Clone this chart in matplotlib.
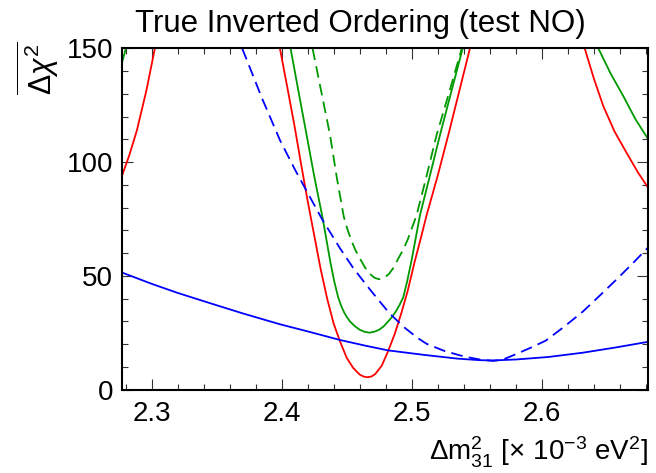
import matplotlib
matplotlib.use("Agg")
import matplotlib.pyplot as plt
from matplotlib.ticker import MultipleLocator

plt.rcParams["font.family"] = ["Liberation Sans", "DejaVu Sans"]
plt.rcParams["mathtext.fontset"] = "custom"
plt.rcParams["mathtext.rm"] = "Liberation Sans"
plt.rcParams["mathtext.it"] = "Liberation Sans:italic"

# delta chi^2 scan vs dm31^2, one list of (x, y) per branch shown inside the frame
red_left_x = [2.277, 2.283, 2.2887, 2.296, 2.3025]
red_left_y = [93.6, 103.3, 114.0, 131.5, 150.0]
red_mid_x = [2.3987, 2.4050, 2.4102, 2.4150, 2.4200, 2.4250, 2.4300, 2.4350,
             2.4400, 2.4450, 2.4500, 2.4550, 2.4600, 2.4630, 2.4659, 2.4690,
             2.4720, 2.4770, 2.4820, 2.4870, 2.4920, 2.4970, 2.5020, 2.5070,
             2.5115, 2.5200, 2.5282, 2.5365, 2.5448]
red_mid_y = [150.0, 131.0, 115.0, 99.0, 83.0, 68.0, 53.0, 40.0,
             29.0, 21.0, 14.0, 9.5, 6.6, 5.7, 5.4, 5.7,
             6.8, 10.5, 17.0, 24.5, 33.5, 43.5, 55.5, 66.5,
             76.7, 94.0, 112.0, 131.0, 150.0]
red_right_x = [2.6331, 2.6400, 2.6474, 2.6560, 2.6654, 2.6740, 2.682]
red_right_y = [150.0, 137.0, 124.6, 113.5, 104.0, 95.5, 88.6]

green_left_x = [2.277, 2.2802]
green_left_y = [143.3, 150.0]
green_mid_x = [2.4069, 2.4130, 2.4192, 2.4250, 2.4315, 2.4375, 2.4405, 2.4435,
               2.4460, 2.4480, 2.4500, 2.4525, 2.4560, 2.4600, 2.4637, 2.4674,
               2.4712, 2.4750, 2.4785, 2.4820, 2.4850, 2.4880, 2.4905, 2.4935,
               2.4965, 2.5000, 2.5064, 2.5140, 2.5218, 2.5305, 2.5392]
green_mid_y = [150.0, 131.0, 112.0, 94.0, 75.5, 56.0, 47.5, 40.5,
               36.5, 34.0, 32.0, 30.0, 28.0, 26.3, 25.4, 25.0,
               25.4, 26.3, 27.8, 30.0, 32.0, 34.5, 37.0, 40.5,
               47.5, 57.0, 76.7, 94.0, 112.0, 131.0, 150.0]
green_right_x = [2.6436, 2.6530, 2.6628, 2.6720, 2.682]
green_right_y = [150.0, 139.0, 129.0, 119.0, 110.0]

green_dash_x = [2.4238, 2.4305, 2.4372, 2.4425, 2.4478, 2.4510, 2.4540, 2.4570,
                2.4602, 2.4642, 2.4680, 2.4715, 2.4751, 2.4788, 2.4825, 2.4861,
                2.4897, 2.4935, 2.4970, 2.5038, 2.5115, 2.5192, 2.5290, 2.5385]
green_dash_y = [150.0, 131.0, 112.0, 93.0, 76.0, 69.8, 65.0, 61.0,
                57.6, 53.6, 50.8, 49.1, 48.5, 49.1, 50.8, 53.6,
                57.6, 61.5, 66.0, 76.7, 94.0, 112.0, 131.0, 150.0]

blue_dash_x = [2.3697, 2.3850, 2.3987, 2.4100, 2.4179, 2.4308, 2.4450, 2.4550,
               2.4654, 2.4750, 2.4833, 2.4950, 2.5050, 2.5115, 2.5250, 2.5372,
               2.5450, 2.5525, 2.5580, 2.5628, 2.5670, 2.5720, 2.5800, 2.5920,
               2.6031, 2.6170, 2.6317, 2.6450, 2.6577, 2.6700, 2.682]
blue_dash_y = [150.0, 128.0, 109.7, 97.0, 88.7, 75.2, 62.0, 53.5,
               45.8, 39.0, 33.3, 27.0, 22.5, 20.1, 17.0, 15.0,
               14.0, 13.2, 12.8, 12.6, 12.9, 13.6, 15.5, 18.5,
               21.5, 27.5, 34.3, 41.5, 48.5, 55.5, 62.6]

blue_x = [2.277, 2.300, 2.320, 2.3448, 2.370, 2.3987, 2.4218, 2.4448,
          2.4650, 2.4820, 2.5100, 2.5350, 2.5525, 2.5628, 2.5800, 2.6050,
          2.6317, 2.6570, 2.682]
blue_y = [51.5, 46.5, 42.5, 38.0, 33.5, 28.7, 25.3, 21.8,
          19.2, 17.2, 15.2, 13.6, 12.9, 12.8, 13.2, 14.3,
          16.2, 18.5, 21.0]

x_min, x_max = 2.277, 2.682
y_min, y_max = 0, 150

red = "#ff0000"
green = "#009900"
blue = "#0000ff"

fig = plt.figure(figsize=(6.56, 4.73), dpi=100)
ax = fig.add_axes([0.1855, 0.1765, 0.8028, 0.721])

lw = 1.3
for xs, ys in [(red_left_x, red_left_y), (red_mid_x, red_mid_y), (red_right_x, red_right_y)]:
    ax.plot(xs, ys, color=red, lw=lw)
for xs, ys in [(green_left_x, green_left_y), (green_mid_x, green_mid_y),
               (green_right_x, green_right_y)]:
    ax.plot(xs, ys, color=green, lw=lw)
ax.plot(green_dash_x, green_dash_y, color=green, lw=lw, dashes=(6.5, 3.5))
ax.plot(blue_dash_x, blue_dash_y, color=blue, lw=lw, dashes=(6.5, 3.5))
ax.plot(blue_x, blue_y, color=blue, lw=lw)

ax.set_xlim(x_min, x_max)
ax.set_ylim(y_min, y_max)

ax.xaxis.set_major_locator(MultipleLocator(0.1))
ax.xaxis.set_minor_locator(MultipleLocator(0.02))
ax.yaxis.set_major_locator(MultipleLocator(50))
ax.yaxis.set_minor_locator(MultipleLocator(10))
ax.tick_params(which="both", direction="in", top=True, right=True,
               labelsize=20, width=0.8, color="#333333")
ax.tick_params(which="major", length=8)
ax.tick_params(which="minor", length=4)
ax.tick_params(axis="x", pad=8)
ax.tick_params(axis="y", pad=6)
for s in ax.spines.values():
    s.set_linewidth(1.5)

# title sits a little left of the frame centre
fig.text(0.549, 1 - 24 / 473, "True Inverted Ordering (test NO)",
         fontsize=22.5, ha="center", va="center")
ax.set_xlabel(r"$\mathrm{\Delta m^{2}_{31}}$ [$\times$ 10$^{-3}$ eV$^{2}$]",
              fontsize=20, loc="right", labelpad=6)
ax.set_ylabel(r"$\overline{\Delta\chi^{2}}$", fontsize=22, loc="top", labelpad=3)
ax.yaxis.set_label_coords(-0.115, 1.02, transform=ax.transAxes)

fig.savefig("out.png", dpi=100)
